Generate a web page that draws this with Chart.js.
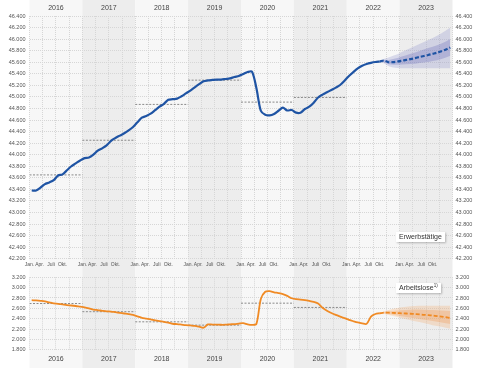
<!DOCTYPE html>
<html>
<head>
<meta charset="utf-8">
<script src="https://cdn.jsdelivr.net/npm/chart.js@4/dist/chart.umd.min.js"></script>
<style>
  body { margin: 0; background: #fff; overflow: hidden; }
  #wrap { position: relative; width: 480px; height: 368px; }
  canvas { position: absolute; left: 0; }
  .lbl {
    position: absolute; background: #fff; color: #333;
    font: 7px "Liberation Sans", Arial, sans-serif; line-height: 8px;
    padding: 1px 3px; box-shadow: 1px 1px 2px rgba(0,0,0,0.25);
  }
  .lbl sup { font-size: 4.5px; line-height: 0; }
</style>
</head>
<body>
<div id="wrap">
  <canvas id="top" width="480" height="270" style="top:0"></canvas>
  <canvas id="bottom" width="480" height="98" style="top:270px"></canvas>
  <div class="lbl" style="left:396px;top:232px;">Erwerbstätige</div>
  <div class="lbl" style="left:396px;top:283px;">Arbeitslose<sup>1)</sup></div>
</div>
<script>
// years and month tick labels
const years = ['2016', '2017', '2018', '2019', '2020', '2021', '2022', '2023'];
const monthNames = ['Jan.', 'Apr.', 'Juli', 'Okt.'];

// Erwerbstätige, monthly Jan 2016 - Aug 2022 (in 1000)
const erwerb = [
  43380, 43380, 43430, 43490, 43520, 43560, 43640, 43660, 43730, 43800, 43850, 43900,
  43940, 43950, 44000, 44070, 44110, 44160, 44240, 44290, 44330, 44370, 44420, 44480,
  44560, 44640, 44670, 44710, 44770, 44830, 44880, 44950, 44960, 44970, 45010, 45060,
  45110, 45166, 45220, 45270, 45285, 45293, 45300, 45300, 45310, 45320, 45345, 45362,
  45395, 45430, 45435, 45150, 44760, 44690, 44680, 44705, 44760, 44814, 44765, 44774,
  44727, 44727, 44790, 44830, 44900, 44990, 45040, 45080, 45120, 45160, 45206, 45280,
  45362, 45430, 45495, 45540, 45570, 45590, 45604, 45612
];
// forecast Aug 2022 - Dec 2023
const erwerbProg = [45612, 45630, 45600, 45602, 45612, 45625, 45640, 45655, 45672, 45690, 45708, 45725, 45745, 45765, 45790, 45820, 45855];
const erwerbOuterHi = [45612, 45660, 45680, 45710, 45740, 45775, 45810, 45845, 45880, 45915, 45950, 45985, 46020, 46060, 46100, 46150, 46200];
const erwerbOuterLo = [45612, 45580, 45530, 45510, 45500, 45495, 45495, 45495, 45495, 45495, 45495, 45495, 45495, 45495, 45495, 45495, 45495];
const erwerbInnerHi = [45612, 45645, 45640, 45655, 45675, 45700, 45720, 45745, 45770, 45795, 45820, 45845, 45870, 45895, 45925, 45960, 46000];
const erwerbInnerLo = [45612, 45600, 45565, 45555, 45555, 45560, 45565, 45570, 45575, 45585, 45595, 45605, 45620, 45635, 45655, 45680, 45710];
const erwerbAvg = [43650, 44250, 44870, 45290, 44910, 44990];

// Arbeitslose, monthly Jan 2016 - Aug 2022 (in 1000)
const arbeitslos = [
  2757, 2752, 2745, 2735, 2715, 2695, 2688, 2675, 2662, 2655, 2645, 2632,
  2620, 2600, 2575, 2565, 2552, 2541, 2538, 2525, 2512, 2500, 2488, 2472,
  2445, 2415, 2400, 2385, 2365, 2351, 2340, 2325, 2302, 2295, 2285, 2275,
  2269, 2262, 2245, 2225, 2288, 2286, 2284, 2282, 2283, 2290, 2296, 2305,
  2313, 2290, 2280, 2300, 2780, 2920, 2932, 2910, 2895, 2875, 2840, 2795,
  2776, 2770, 2760, 2744, 2725, 2695, 2610, 2554, 2510, 2472, 2440, 2410,
  2377, 2350, 2326, 2310, 2300, 2440, 2490, 2505
];
const arbeitslosProg = [2505, 2516, 2515, 2512, 2508, 2504, 2500, 2495, 2490, 2485, 2475, 2468, 2460, 2450, 2440, 2428, 2415];
const arbeitslosOuterHi = [2505, 2545, 2570, 2590, 2605, 2620, 2630, 2638, 2644, 2648, 2650, 2650, 2650, 2650, 2650, 2650, 2650];
const arbeitslosOuterLo = [2505, 2490, 2470, 2450, 2430, 2410, 2390, 2370, 2350, 2335, 2315, 2295, 2275, 2260, 2245, 2225, 2206];
const arbeitslosInnerHi = [2505, 2528, 2540, 2550, 2558, 2565, 2570, 2572, 2575, 2575, 2572, 2570, 2567, 2563, 2560, 2555, 2550];
const arbeitslosInnerLo = [2505, 2505, 2490, 2475, 2460, 2445, 2432, 2420, 2408, 2395, 2380, 2368, 2355, 2340, 2325, 2310, 2295];
const arbeitslosAvg = [2693, 2535, 2339, 2275, 2700, 2617];

const progStart = erwerb.length - 1;

Chart.defaults.font.family = '"Liberation Sans", Arial, sans-serif';
Chart.defaults.animation = false;

const fmt = v => String(v).replace(/\B(?=(\d{3})+(?!\d))/g, '.');
const pts = (arr, start) => arr.map((v, i) => ({ x: start + i + 0.5, y: v }));

const yearBands = {
  id: 'yearBands',
  beforeDraw(chart) {
    const ctx = chart.ctx, x = chart.scales.x;
    ctx.save();
    years.forEach((y, i) => {
      const a = x.getPixelForValue(i * 12), b = x.getPixelForValue((i + 1) * 12);
      ctx.fillStyle = i % 2 ? '#ededed' : '#f7f7f7';
      ctx.fillRect(a, 0, b - a, chart.height);
    });
    ctx.restore();
  }
};

function avgSets(avg) {
  return avg.map((v, i) => ({
    data: [{ x: i * 12, y: v }, { x: (i + 1) * 12, y: v }],
    borderColor: '#8a8a8a', borderWidth: 1, borderDash: [2, 1.5],
    pointRadius: 0, order: 3
  }));
}

function buildChart(el, o) {
  const quarterTicks = [], monthTicks = [], yearTicks = [];
  years.forEach((y, i) => {
    for (let q = 0; q < 4; q++) quarterTicks.push(i * 12 + q * 3);
    [0, 2.3, 4.9, 7.5].forEach(p => monthTicks.push(i * 12 + p));
    yearTicks.push(i * 12 + 6);
  });
  quarterTicks.push(96);

  const yAxis = (pos) => ({
    position: pos, min: o.min, max: o.max,
    ticks: { stepSize: 200, callback: fmt, font: { size: 5.5 }, color: '#555', padding: pos === 'left' ? 4 : 3 },
    grid: pos === 'left' ? { color: '#d6d6d6', drawTicks: false } : { display: false, drawTicks: false },
    border: { display: false, dash: [1, 1] },
    afterFit: s => { s.width = pos === 'left' ? 29.5 : 27.5; }
  });

  const scales = {
    x: {
      type: 'linear', min: 0, max: 96, position: 'bottom',
      afterBuildTicks: s => { s.ticks = quarterTicks.map(v => ({ value: v })); },
      ticks: { display: false },
      grid: { color: '#d6d6d6', drawTicks: false },
      border: { display: false, dash: [1, 1] },
      afterFit: s => { s.height = 0; }
    },
    y: yAxis('left'),
    yr: yAxis('right')
  };
  if (o.months) {
    scales.xm = {
      type: 'linear', min: 0, max: 96, position: 'bottom',
      afterBuildTicks: s => { s.ticks = monthTicks.map(v => ({ value: v })); },
      ticks: { callback: (v, i) => monthNames[i % 4], font: { size: 5 }, color: '#555', autoSkip: false, maxRotation: 0, padding: 3 },
      grid: { display: false, drawTicks: false }, border: { display: false },
      afterFit: s => { s.height = 11.3; }
    };
  }
  scales.xy = {
    type: 'linear', min: 0, max: 96, position: o.yearPos,
    afterBuildTicks: s => { s.ticks = yearTicks.map(v => ({ value: v })); },
    ticks: { callback: (v, i) => years[i], font: { size: 7 }, color: '#444', autoSkip: false, maxRotation: 0, padding: o.yearPos === 'top' ? 4 : 5 },
    grid: { display: false, drawTicks: false }, border: { display: false },
    afterFit: s => { s.height = o.yearH; }
  };

  const band = (hi, lo, color) => ([
    { data: pts(hi, progStart), borderWidth: 0, pointRadius: 0, fill: '+1', backgroundColor: color, order: 5 },
    { data: pts(lo, progStart), borderWidth: 0, pointRadius: 0, fill: false, order: 5 }
  ]);

  const datasets = [
    ...band(o.outerHi, o.outerLo, o.fanOuter),
    ...band(o.innerHi, o.innerLo, o.fanInner),
    ...avgSets(o.avg),
    { data: pts(o.actual, 0), borderColor: o.color, borderWidth: o.lw, pointRadius: 0, tension: 0.3, order: 1 },
    { data: pts(o.prog, progStart), borderColor: o.color, borderWidth: o.lw, borderDash: [4, 2], pointRadius: 0, tension: 0.3, order: 1 }
  ];

  return new Chart(el, {
    type: 'line',
    data: { datasets },
    options: {
      responsive: false, devicePixelRatio: 1,
      layout: { padding: { top: o.padTop, left: 0, right: 0, bottom: 0 } },
      parsing: true,
      plugins: { legend: { display: false }, tooltip: { enabled: false } },
      scales
    },
    plugins: [yearBands]
  });
}

buildChart(document.getElementById('top'), {
  min: 42200, max: 46400, months: true, yearPos: 'top', yearH: 16, padTop: 0,
  actual: erwerb, prog: erwerbProg, avg: erwerbAvg,
  outerHi: erwerbOuterHi, outerLo: erwerbOuterLo, innerHi: erwerbInnerHi, innerLo: erwerbInnerLo,
  color: '#1f54a4', lw: 2.2,
  fanOuter: 'rgba(110,115,190,0.22)', fanInner: 'rgba(90,95,180,0.28)'
});

buildChart(document.getElementById('bottom'), {
  min: 1800, max: 3200, months: false, yearPos: 'bottom', yearH: 18.3, padTop: 6,
  actual: arbeitslos, prog: arbeitslosProg, avg: arbeitslosAvg,
  outerHi: arbeitslosOuterHi, outerLo: arbeitslosOuterLo, innerHi: arbeitslosInnerHi, innerLo: arbeitslosInnerLo,
  color: '#f08a24', lw: 1.8,
  fanOuter: 'rgba(245,150,70,0.22)', fanInner: 'rgba(240,135,50,0.25)'
});
</script>
</body>
</html>
